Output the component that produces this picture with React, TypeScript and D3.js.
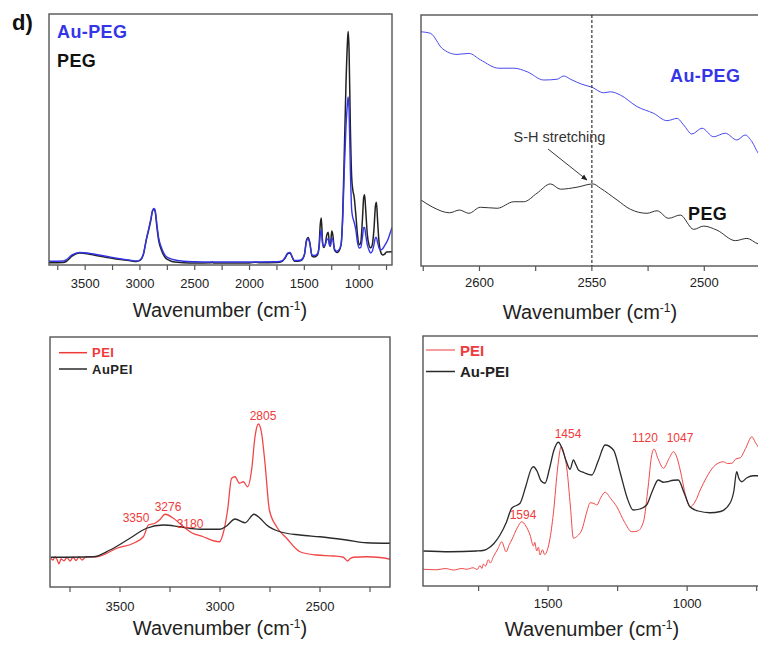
import React from "react";
import * as d3 from "d3";

// ---------- DATA ----------
// Panel A: full spectra (wavenumber, intensity a.u.)
const pegFull: [number, number][] = [
  [3830, 0.9], [3700, 1.0], [3670, 1.5], [3620, 3.5], [3550, 4.8], [3480, 4.5], [3400, 3.8], [3300, 3.0],
  [3200, 2.3], [3100, 1.8], [3030, 1.4], [3000, 1.8], [2970, 4], [2940, 10.5], [2920, 14], [2900, 18],
  [2885, 21.5], [2870, 22.2], [2860, 21], [2845, 15], [2830, 10], [2800, 5.5], [2770, 3], [2740, 2],
  [2700, 1.3], [2600, 0.9], [2500, 0.8], [2350, 0.9], [2340, 1.2], [2330, 0.8], [2000, 0.8], [1950, 1.1],
  [1900, 0.9], [1750, 1.0], [1700, 1.5], [1680, 2.5], [1650, 4.5], [1630, 4.8], [1610, 3], [1590, 1.5],
  [1560, 1.5], [1530, 1.8], [1500, 4], [1480, 10], [1465, 11], [1450, 9], [1430, 3.5], [1410, 3.2],
  [1380, 4], [1365, 8], [1355, 16], [1345, 18.7], [1335, 10], [1325, 7], [1310, 8], [1295, 12],
  [1282, 13], [1270, 8], [1262, 7.5], [1250, 13.5], [1240, 12], [1225, 6], [1205, 5], [1185, 5.5],
  [1165, 8], [1150, 20], [1135, 45], [1120, 72], [1105, 90], [1100, 93], [1092, 86], [1080, 55],
  [1068, 35], [1058, 30], [1045, 27], [1030, 20], [1015, 12], [1000, 8], [985, 9], [970, 18],
  [958, 27], [950, 28], [940, 22], [925, 12], [910, 8], [895, 6.8], [880, 8], [865, 14], [850, 24],
  [842, 25], [832, 18], [820, 10], [805, 5.5], [785, 4], [770, 4.2], [750, 5.2], [700, 5.3],
];
const auPegFull: [number, number][] = [
  [3830, 1.5], [3700, 1.6], [3670, 2.2], [3620, 4], [3550, 5], [3480, 4.8], [3400, 4.2], [3300, 3.4],
  [3200, 2.6], [3100, 2.0], [3030, 1.6], [3000, 2.0], [2970, 4.2], [2940, 10.5], [2920, 14.5], [2900, 18.5],
  [2885, 21.8], [2870, 22.5], [2860, 21.5], [2845, 16], [2830, 11], [2800, 6.5], [2770, 3.8], [2740, 2.8],
  [2700, 2.2], [2600, 1.5], [2500, 1.3], [2350, 1.2], [2000, 1.2], [1750, 1.3], [1700, 1.7], [1680, 2.7],
  [1650, 4.8], [1630, 5], [1610, 3.2], [1590, 1.8], [1560, 1.8], [1530, 2], [1500, 4], [1480, 9.5],
  [1465, 10.5], [1450, 8.5], [1430, 4], [1410, 3.8], [1380, 4.5], [1365, 7], [1355, 12], [1345, 14],
  [1335, 9], [1325, 7.5], [1310, 8], [1295, 10], [1282, 10.5], [1270, 8], [1262, 7.5], [1250, 10.8],
  [1240, 10], [1225, 6.5], [1205, 5.5], [1185, 6], [1165, 8], [1150, 18], [1135, 38], [1120, 55],
  [1105, 65], [1100, 67], [1092, 62], [1080, 38], [1068, 22], [1058, 19], [1045, 17], [1030, 14],
  [1015, 9], [1000, 6.8], [985, 7], [970, 11], [958, 15], [950, 15], [940, 12], [925, 8], [910, 6],
  [895, 4.8], [880, 5.5], [865, 8], [850, 11], [842, 11], [832, 9], [820, 7], [805, 6], [785, 6.5],
  [770, 7.5], [750, 9], [730, 11], [715, 13], [700, 15],
];

// Panel B: S-H region
const auPegSH: [number, number][] = [
  [2626, 93.3], [2621.8, 92.7], [2616.6, 86.7], [2610, 84.3], [2604.7, 84.7], [2599.5, 82.1],
  [2591.4, 78.8], [2584.7, 78.8], [2578.8, 77.4], [2571.4, 74.1], [2565.5, 74.4], [2562.5, 75.7],
  [2559.5, 74.4], [2554.4, 72.4], [2549.9, 71.2], [2544.8, 69.0], [2541.8, 69.4], [2537.3, 68.1],
  [2529.9, 63.5], [2522.5, 60.8], [2516.6, 57.9], [2512.1, 58.8], [2509.2, 56.2], [2505.5, 52.6],
  [2501, 54.9], [2495.9, 51.5], [2490.7, 52.9], [2485.5, 50.2], [2481.8, 52.2], [2478.8, 49.5],
  [2476, 44.9], [2473, 42],
];
const pegSH: [number, number][] = [
  [2626, 26.3], [2620.7, 23.4], [2613.3, 21.2], [2608.9, 22.3], [2604.7, 21.0], [2599.6, 23.4],
  [2592.1, 23.0], [2584.7, 25.6], [2580.3, 25.6], [2574.4, 29.0], [2568.4, 32.7], [2564, 30.6],
  [2556.6, 31.4], [2549.5, 32.7], [2546.2, 31.0], [2538.8, 26.3], [2532.9, 22.6], [2525.5, 21.0],
  [2521, 22.0], [2515.9, 19.0], [2510.7, 20.3], [2504.7, 14.6], [2500.3, 15.9], [2494.4, 14.3],
  [2486.2, 10.1], [2481, 11.0], [2476, 8.8], [2473, 8.5],
];

// Panel C: PEI high-wavenumber
const peiHigh: [number, number][] = [
  [3846, 11.5], [3835, 10.8], [3825, 12], [3815, 11], [3805, 9.3], [3795, 11.2], [3780, 10.5],
  [3765, 11.8], [3750, 10.4], [3735, 11.9], [3720, 10.6], [3705, 12], [3690, 10.8], [3670, 12.1],
  [3616, 12.1], [3516, 15.5], [3433, 17.5], [3383, 20.1], [3358, 24.8], [3325, 25.5], [3300, 27],
  [3275, 29.1], [3233, 27.5], [3183, 24.1], [3142, 21.7], [3083, 20.1], [3033, 18.5], [3003, 18.1],
  [2980, 22.8], [2962, 30.8], [2942, 43.5], [2925, 44.1], [2903, 41.5], [2883, 42.1], [2862, 40.1],
  [2842, 46.8], [2825, 60.1], [2808, 65.2], [2792, 61.5], [2775, 49.5], [2753, 30.8], [2717, 24.1],
  [2667, 19.5], [2600, 14.1], [2517, 12.8], [2433, 12.4], [2383, 11.9], [2362, 10.4], [2350, 11.3],
  [2333, 11.9], [2267, 12.1], [2200, 11.8], [2150, 11.1],
];
const auPeiHigh: [number, number][] = [
  [3846, 11.9], [3633, 12.1], [3550, 14.8], [3450, 19.5], [3367, 23.5], [3283, 24.8], [3200, 24.1],
  [3100, 23.1], [3000, 23.1], [2967, 24.4], [2925, 27.2], [2875, 25.7], [2830, 29.1], [2800, 27.5],
  [2767, 24.8], [2700, 22.1], [2600, 20.8], [2500, 20.1], [2367, 18.8], [2267, 17.7], [2150, 17.5],
];

// Panel D: fingerprint region
const peiLow: [number, number][] = [
  [1950, 6.7], [1900, 6.5], [1870, 7], [1840, 6.4], [1810, 7], [1793, 6.7], [1770, 7.3], [1755, 6.6],
  [1745, 8.2], [1738, 7], [1733, 8.8], [1725, 8], [1715, 10.5], [1708, 9.2], [1697, 11.7], [1680, 15],
  [1667, 17.7], [1651, 13.7], [1640, 16.5], [1631, 18.4], [1610, 23.5], [1595, 25.7], [1580, 24],
  [1565, 20.4], [1553, 16], [1548, 17.5], [1541, 14], [1535, 15.5], [1529, 12.4], [1520, 14.5],
  [1513, 12.6], [1505, 13.7], [1495, 18], [1481, 29.1], [1465, 48], [1453, 55.7], [1443, 53],
  [1432, 46.4], [1420, 32], [1409, 19.1], [1395, 20], [1379, 22.4], [1360, 30], [1349, 33.3],
  [1335, 33], [1325, 32.4], [1310, 35.5], [1295, 37.5], [1275, 35], [1253, 31.7], [1225, 25.5],
  [1199, 21.7], [1178, 22], [1157, 25.7], [1140, 40], [1128, 52], [1119, 54.8], [1105, 51],
  [1085, 47.1], [1065, 51], [1049, 53.7], [1037, 51.5], [1025, 46.4], [1005, 36], [989, 31.7],
  [970, 34], [953, 38.4], [930, 43.5], [905, 47.7], [880, 49.5], [869, 49.7], [855, 49], [839, 49.1],
  [825, 50.8], [809, 51.3], [790, 55], [767, 59.7], [755, 57.5], [745, 55.7], [730, 54], [720, 53],
];
const auPeiLow: [number, number][] = [
  [1949, 14], [1853, 13.7], [1757, 14], [1730, 14.3], [1715, 15.1], [1695, 17], [1673, 20.4],
  [1650, 25.5], [1631, 31.1], [1601, 33.1], [1580, 40], [1560, 47], [1553, 47.7], [1540, 46],
  [1525, 42], [1511, 41.1], [1495, 47], [1480, 54], [1463, 57.5], [1450, 55], [1435, 50], [1421, 46.7],
  [1409, 50.4], [1400, 48.5], [1391, 46.4], [1370, 45.3], [1343, 44.4], [1320, 50], [1295, 56.4],
  [1265, 54.4], [1240, 45], [1215, 35], [1194, 30.4], [1170, 30.8], [1146, 32.4], [1125, 38],
  [1104, 42.4], [1085, 41.5], [1073, 41.7], [1050, 42.3], [1032, 42.4], [1010, 37], [990, 31.7],
  [960, 30], [918, 29.3], [880, 29.8], [846, 33.1], [832, 38], [822, 45.7], [814, 43], [804, 41.7],
  [785, 43.3], [763, 44.1], [730, 44.1], [720, 44.1],
];

const ticksA = [3750, 3500, 3250, 3000, 2750, 2500, 2250, 2000, 1750, 1500, 1250, 1000, 750];
const labelsA = [3500, 3000, 2500, 2000, 1500, 1000];
const ticksB = [2625, 2600, 2575, 2550, 2525, 2500, 2475];
const labelsB = [2600, 2550, 2500];
const ticksC = [3750, 3500, 3250, 3000, 2750, 2500, 2250];
const labelsC = [3500, 3000, 2500];
const ticksD = [1750, 1500, 1250, 1000, 750];
const labelsD = [1500, 1000];

const peakLabelsC = ["3350", "3276", "3180", "2805"];
const peakLabelsD = ["1594", "1454", "1120", "1047"];

// ---------- STYLE ----------
const FONT = "Arial, 'Liberation Sans', Helvetica, sans-serif";
const BLUE = "#3535e8";
const RED = "#f03a3a";
const BLACK = "#222";
const FRAME = "#555";

type PanelProps = {
  id: string;
  x0: number; x1: number; y0: number; y1: number;
  domain: [number, number];
  ticks: number[];
  labels: number[];
  labelY: number;
  titleX: number;
  titleY: number;
  series: { data: [number, number][]; color: string; width: number }[];
  children?: (x: d3.ScaleLinear<number, number>, y: d3.ScaleLinear<number, number>) => React.ReactNode;
};

function Panel(p: PanelProps) {
  const x = d3.scaleLinear().domain(p.domain).range([p.x0, p.x1]);
  const y = d3.scaleLinear().domain([0, 100]).range([p.y1, p.y0]);
  const line = d3
    .line<[number, number]>()
    .x((d) => x(d[0]))
    .y((d) => y(d[1]))
    .curve(d3.curveMonotoneX);
  return (
    <g>
      <defs>
        <clipPath id={p.id}>
          <rect x={p.x0} y={p.y0} width={p.x1 - p.x0} height={p.y1 - p.y0} />
        </clipPath>
      </defs>
      <g clipPath={`url(#${p.id})`}>
        {p.series.map((s, i) => (
          <path key={i} d={line(s.data) || ""} fill="none" stroke={s.color} strokeWidth={s.width} strokeLinejoin="round" />
        ))}
      </g>
      <rect x={p.x0} y={p.y0} width={p.x1 - p.x0} height={p.y1 - p.y0} fill="none" stroke={FRAME} strokeWidth={1.4} />
      {p.ticks.map((t) => (
        <line key={t} x1={x(t)} x2={x(t)} y1={p.y1} y2={p.y1 + 5} stroke={FRAME} strokeWidth={1.2} />
      ))}
      {p.labels.map((t) => (
        <text key={t} x={x(t)} y={p.labelY} textAnchor="middle" fontSize={13} fill={BLACK} fontFamily={FONT}>
          {t}
        </text>
      ))}
      <text x={p.titleX} y={p.titleY} textAnchor="middle" fontSize={20} fill={BLACK} fontFamily={FONT}>
        Wavenumber (cm
        <tspan dy={-7} fontSize={12}>-1</tspan>
        <tspan dy={7}>)</tspan>
      </text>
      {p.children && p.children(x, y)}
    </g>
  );
}

export default function App() {
  return (
    <svg width={758} height={646} style={{ position: "absolute", left: 0, top: 0, background: "#fff" }} fontFamily={FONT}>
      <defs>
        <marker id="arrow" viewBox="0 0 10 10" refX="9" refY="5" markerWidth="7" markerHeight="7" orient="auto">
          <path d="M0,1 L10,5 L0,9 z" fill="#222" />
        </marker>
      </defs>
      <rect x={0} y={0} width={758} height={646} fill="#fff" />

      <text x={12} y={30} fontSize={22} fontWeight="bold" fill="#111">d)</text>

      {/* Panel A */}
      <Panel
        id="clipA" x0={49} x1={392} y0={14} y1={265} domain={[3830, 700]}
        ticks={ticksA} labels={labelsA} labelY={288} titleX={220} titleY={317}
        series={[
          { data: pegFull, color: BLACK, width: 1.5 },
          { data: auPegFull, color: BLUE, width: 1.4 },
        ]}
      >
        {() => (
          <g fontWeight="bold" fontSize={18} letterSpacing={0.4}>
            <text x={57} y={37.5} fill={BLUE}>Au-PEG</text>
            <text x={57} y={66.5} fill="#111">PEG</text>
          </g>
        )}
      </Panel>

      {/* Panel B */}
      <Panel
        id="clipB" x0={421} x1={765} y0={15} y1={266} domain={[2626, 2473]}
        ticks={ticksB} labels={labelsB} labelY={287} titleX={590} titleY={319}
        series={[
          { data: auPegSH, color: "#4a4aee", width: 1 },
          { data: pegSH, color: "#333", width: 1 },
        ]}
      >
        {(x) => (
          <g>
            <line x1={x(2550)} x2={x(2550)} y1={15} y2={266} stroke="#222" strokeWidth={1.1} strokeDasharray="3,2" />
            <text x={559.5} y={142} textAnchor="middle" fontSize={14.5} fill="#333">S-H stretching</text>
            <line x1={548} y1={149} x2={587} y2={180} stroke="#222" strokeWidth={0.9} markerEnd="url(#arrow)" />
            <g fontWeight="bold" fontSize={18} letterSpacing={0.4}>
              <text x={670} y={81.5} fill={BLUE}>Au-PEG</text>
              <text x={688} y={220} fill="#111">PEG</text>
            </g>
          </g>
        )}
      </Panel>

      {/* Panel C */}
      <Panel
        id="clipC" x0={50} x1={390} y0={337} y1={587} domain={[3850, 2150]}
        ticks={ticksC} labels={labelsC} labelY={611} titleX={220} titleY={635}
        series={[
          { data: peiHigh, color: "#f24545", width: 1.3 },
          { data: auPeiHigh, color: "#2a2a2a", width: 1.3 },
        ]}
      >
        {() => (
          <g>
            <line x1={59} x2={87} y1={352.7} y2={352.7} stroke={RED} strokeWidth={1.5} />
            <line x1={59} x2={87} y1={369} y2={369} stroke="#2a2a2a" strokeWidth={1.5} />
            <text x={92} y={357} fontSize={13} fontWeight="bold" fill={RED} letterSpacing={0.5}>PEI</text>
            <text x={92} y={373.5} fontSize={13} fontWeight="bold" fill="#222" letterSpacing={0.5}>AuPEI</text>
            <g fontSize={12} fill={RED} textAnchor="middle">
              <text x={136} y={522}>{peakLabelsC[0]}</text>
              <text x={168} y={511}>{peakLabelsC[1]}</text>
              <text x={190} y={528}>{peakLabelsC[2]}</text>
              <text x={263} y={420}>{peakLabelsC[3]}</text>
            </g>
          </g>
        )}
      </Panel>

      {/* Panel D */}
      <Panel
        id="clipD" x0={423} x1={765} y0={336} y1={586} domain={[1950, 720]}
        ticks={ticksD} labels={labelsD} labelY={608} titleX={592} titleY={636}
        series={[
          { data: peiLow, color: "#f04848", width: 1 },
          { data: auPeiLow, color: "#2a2a2a", width: 1.3 },
        ]}
      >
        {() => (
          <g>
            <line x1={426} x2={455} y1={350} y2={350} stroke={RED} strokeWidth={1} />
            <line x1={426} x2={455} y1={371.5} y2={371.5} stroke="#2a2a2a" strokeWidth={1.5} />
            <text x={460} y={355.5} fontSize={15} fontWeight="bold" fill={RED}>PEI</text>
            <text x={460} y={377} fontSize={15} fontWeight="bold" fill="#222">Au-PEI</text>
            <g fontSize={12} fill={RED} textAnchor="middle">
              <text x={523} y={519}>{peakLabelsD[0]}</text>
              <text x={568} y={438}>{peakLabelsD[1]}</text>
              <text x={645} y={442}>{peakLabelsD[2]}</text>
              <text x={680} y={442}>{peakLabelsD[3]}</text>
            </g>
          </g>
        )}
      </Panel>
    </svg>
  );
}
